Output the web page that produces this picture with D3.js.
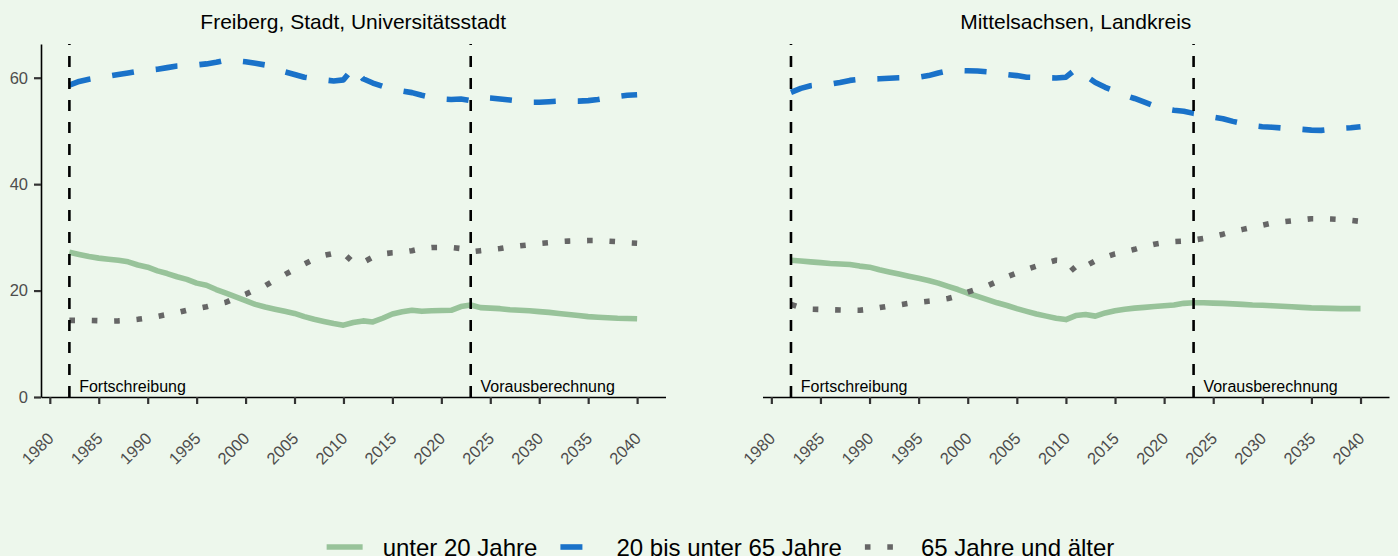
<!DOCTYPE html>
<html>
<head>
<meta charset="utf-8">
<script src="https://cdn.jsdelivr.net/npm/d3@7"></script>
<style>
  body { margin: 0; background: #edf7ec; }
  svg { display: block; font-family: "Liberation Sans", Arial, sans-serif; }
</style>
</head>
<body>
<svg id="chart" width="1398" height="556"></svg>
<script>
// years 1982..2040, Fortschreibung bis 2022, Vorausberechnung ab 2023
var years = d3.range(1982, 2041);

var panelTitles = ['Freiberg, Stadt, Universitätsstadt', 'Mittelsachsen, Landkreis'];
var seriesNames = ['unter 20 Jahre', '20 bis unter 65 Jahre', '65 Jahre und älter'];
var yTicks = [0, 20, 40, 60];
var xTicks = d3.range(1980, 2041, 5);
var markerYears = [1982, 2023];
var markerLabels = ['Fortschreibung', 'Vorausberechnung'];

var freibergU20 = [27.2, 26.8, 26.4, 26.1, 25.9, 25.7, 25.4, 24.8, 24.4, 23.7,
  23.2, 22.6, 22.1, 21.4, 21.0, 20.2, 19.5, 18.8, 18.1, 17.4,
  16.9, 16.5, 16.1, 15.7, 15.1, 14.6, 14.2, 13.8, 13.5, 14.0,
  14.3, 14.1, 14.8, 15.6, 16.0, 16.3, 16.1, 16.2, 16.25, 16.3,
  17.0, 17.3, 16.8, 16.7, 16.6, 16.4, 16.3, 16.2, 16.05, 15.9,
  15.7, 15.5, 15.3, 15.1, 15.0, 14.9, 14.8, 14.75, 14.7];
var freibergA2065 = [58.6, 59.3, 59.7, 60.0, 60.3, 60.6, 60.9, 61.2, 61.4, 61.6,
  61.9, 62.2, 62.3, 62.4, 62.6, 62.9, 63.3, 63.2, 63.0, 62.7,
  62.4, 61.7, 61.1, 60.6, 60.1, 59.8, 59.6, 59.4, 59.6, 61.9,
  59.8, 59.0, 58.4, 57.9, 57.5, 57.2, 56.7, 56.3, 56.0, 55.9,
  56.0, 55.7, 56.3, 56.2, 56.0, 55.8, 55.6, 55.4, 55.4, 55.5,
  55.6, 55.6, 55.6, 55.7, 55.9, 56.2, 56.5, 56.7, 56.8];
var freibergO65 = [14.4, 14.4, 14.4, 14.35, 14.25, 14.3, 14.4, 14.6, 14.85, 15.15,
  15.5, 15.85, 16.3, 16.6, 16.95, 17.4, 17.8, 18.6, 19.3, 20.2,
  20.9, 22.0, 23.0, 24.0, 25.0, 25.9, 26.6, 27.0, 27.0, 25.3,
  25.3, 26.3, 26.9, 27.1, 27.2, 27.5, 27.9, 28.1, 28.1, 28.1,
  27.9, 27.3, 27.5, 27.7, 27.9, 28.2, 28.4, 28.6, 28.85, 29.0,
  29.2, 29.3, 29.35, 29.4, 29.4, 29.3, 29.2, 29.0, 28.9];

var mittelU20 = [25.7, 25.55, 25.4, 25.25, 25.1, 25.0, 24.9, 24.6, 24.4, 23.9,
  23.5, 23.1, 22.7, 22.3, 21.9, 21.4, 20.8, 20.2, 19.5, 18.9,
  18.3, 17.7, 17.2, 16.6, 16.1, 15.6, 15.2, 14.8, 14.55, 15.3,
  15.5, 15.2, 15.8, 16.2, 16.5, 16.7, 16.85, 17.0, 17.15, 17.3,
  17.6, 17.7, 17.7, 17.65, 17.6, 17.5, 17.4, 17.3, 17.25, 17.15,
  17.05, 16.95, 16.85, 16.75, 16.7, 16.65, 16.6, 16.6, 16.6];
var mittelA2065 = [57.25, 58.0, 58.5, 58.7, 58.8, 59.1, 59.5, 59.7, 59.75, 59.8,
  59.9, 60.0, 60.05, 60.1, 60.4, 60.9, 61.3, 61.35, 61.3, 61.25,
  61.1, 60.9, 60.6, 60.4, 60.1, 60.05, 60.0, 59.95, 60.1, 61.6,
  60.4, 59.1, 58.2, 57.5, 56.7, 56.1, 55.4, 54.7, 54.2, 53.9,
  53.7, 53.3, 53.05, 52.6, 52.3, 51.8, 51.4, 51.0, 50.8, 50.7,
  50.55, 50.45, 50.3, 50.15, 50.1, 50.3, 50.5, 50.6, 50.8];
var mittelO65 = [17.4, 16.8, 16.5, 16.45, 16.4, 16.35, 16.3, 16.3, 16.5, 16.8,
  17.1, 17.3, 17.6, 17.8, 18.0, 18.2, 18.5, 19.0, 19.7, 20.3,
  20.9, 21.7, 22.6, 23.3, 24.0, 24.6, 25.2, 25.7, 25.6, 23.5,
  24.6, 25.6, 26.3, 26.9, 27.3, 27.75, 28.3, 28.7, 29.0, 29.2,
  29.3, 29.5, 29.8, 30.2, 30.6, 31.1, 31.5, 31.9, 32.3, 32.7,
  32.9, 33.1, 33.3, 33.5, 33.5, 33.45, 33.35, 33.2, 33.0];

var colors = ['#98c39a', '#1a72c9', '#666666'],
    dashes = [null, '22 22', '5.6 16.8'],
    lineWidth = 5.6;

var svg = d3.select('#chart'),
    plotTop = 44,
    plotBottom = 397,
    panels = [
      {title: panelTitles[0], series: [freibergU20, freibergA2065, freibergO65], left: 41, right: 665.5, yAxis: true},
      {title: panelTitles[1], series: [mittelU20, mittelA2065, mittelO65], left: 762.5, right: 1389, yAxis: false}
    ];

var yMax = d3.max(panels, function(p) { return d3.max(p.series, function(s) { return d3.max(s); }); });
var y = d3.scaleLinear().domain([0, yMax * 1.048]).range([plotBottom, plotTop]);

var span = years[years.length - 1] - years[0];
var xDomain = [years[0] - span * 0.05, years[years.length - 1] + span * 0.05];

panels.forEach(function(p) {
  var x = d3.scaleLinear().domain(xDomain).range([p.left, p.right]),
      g = svg.append('g');

  var line = d3.line()
      .x(function(d, i) { return x(years[i]); })
      .y(function(d) { return y(d); });

  // title
  g.append('text')
    .attr('x', (p.left + p.right) / 2)
    .attr('y', 28.5)
    .attr('text-anchor', 'middle')
    .style('font-size', '21px')
    .style('fill', '#000')
    .text(p.title);

  // x axis
  var xAxis = g.append('g')
    .attr('transform', 'translate(0,' + plotBottom + ')')
    .call(d3.axisBottom(x).tickValues(xTicks).tickSize(7).tickSizeOuter(0).tickFormat(d3.format('d')));

  xAxis.select('.domain').attr('stroke', '#000').attr('stroke-width', 1.6);
  xAxis.selectAll('.tick line').attr('stroke', '#333').attr('stroke-width', 2.2);
  xAxis.selectAll('.tick text')
    .attr('x', 0).attr('y', 0).attr('dy', null)
    .attr('transform', 'translate(4.5,42.5) rotate(-45)')
    .style('text-anchor', 'end')
    .style('font-size', '16.5px')
    .style('font-family', '"Liberation Sans", Arial, sans-serif')
    .style('fill', '#4d4d4d');

  if (p.yAxis) {
    var yAxis = g.append('g')
      .attr('transform', 'translate(' + p.left + ',0)')
      .call(d3.axisLeft(y).tickValues(yTicks).tickSize(7).tickSizeOuter(0).tickPadding(6));

    yAxis.select('.domain').attr('stroke', '#000').attr('stroke-width', 1.6);
    yAxis.selectAll('.tick line').attr('stroke', '#333').attr('stroke-width', 2.2);
    yAxis.selectAll('.tick text')
      .style('font-size', '16.5px')
      .style('font-family', '"Liberation Sans", Arial, sans-serif')
      .style('fill', '#4d4d4d');
  }

  // series
  p.series.forEach(function(s, i) {
    g.append('path')
      .datum(s)
      .attr('d', line)
      .attr('fill', 'none')
      .attr('stroke', colors[i])
      .attr('stroke-width', lineWidth)
      .attr('stroke-dasharray', dashes[i])
      .attr('stroke-linejoin', 'round');
  });

  // Fortschreibung / Vorausberechnung markers
  markerYears.forEach(function(yr, i) {
    g.append('line')
      .attr('x1', x(yr)).attr('x2', x(yr))
      .attr('y1', plotBottom).attr('y2', plotTop)
      .attr('stroke', '#000')
      .attr('stroke-width', 2.6)
      .attr('stroke-dasharray', '11 11');

    g.append('text')
      .attr('x', x(yr + 1))
      .attr('y', plotBottom - 5)
      .style('font-size', '16px')
      .style('fill', '#000')
      .text(markerLabels[i]);
  });
});

// legend
var legend = svg.append('g').attr('transform', 'translate(0,547)'),
    keyWidth = 36,
    items = [];

seriesNames.forEach(function(name, i) {
  var item = legend.append('g');
  item.append('line')
    .attr('x1', 0).attr('x2', keyWidth)
    .attr('stroke', colors[i])
    .attr('stroke-width', lineWidth)
    .attr('stroke-dasharray', dashes[i]);
  var t = item.append('text')
    .attr('x', keyWidth + 20)
    .attr('y', 8.5)
    .style('font-size', '24px')
    .style('fill', '#000')
    .text(name);
  items.push({g: item, w: keyWidth + 20 + t.node().getComputedTextLength()});
});

var total = d3.sum(items, function(d) { return d.w; }) + 23 * (items.length - 1),
    start = 720.5 - total / 2;

items.forEach(function(d) {
  d.g.attr('transform', 'translate(' + start + ',0)');
  start += d.w + 23;
});
</script>
</body>
</html>
